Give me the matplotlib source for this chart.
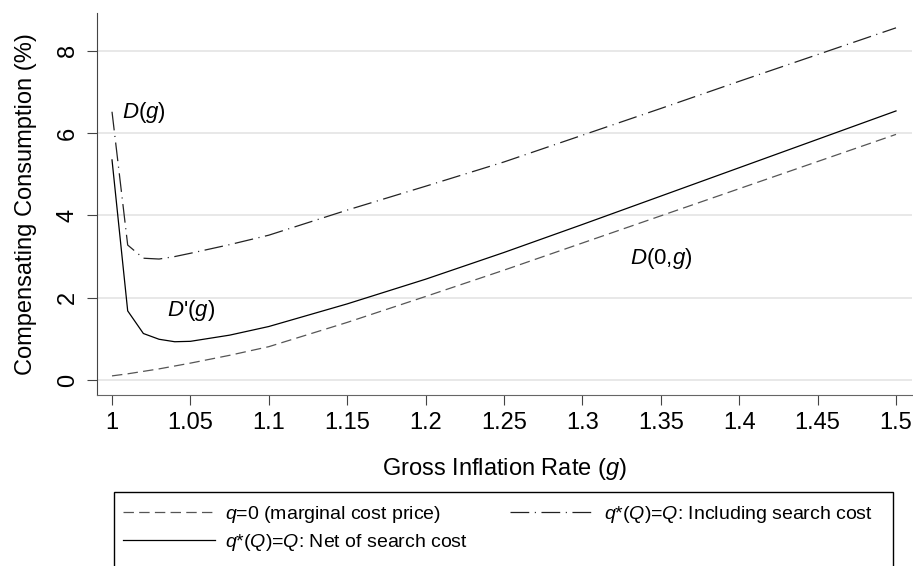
import matplotlib
matplotlib.use("Agg")
import matplotlib.pyplot as plt
from matplotlib.patches import Rectangle
from matplotlib.lines import Line2D

plt.rcParams['font.family'] = ['Liberation Sans', 'DejaVu Sans']
plt.rcParams['mathtext.fontset'] = 'custom'
plt.rcParams['mathtext.rm'] = 'Liberation Sans'
plt.rcParams['mathtext.it'] = 'Liberation Sans:italic'
plt.rcParams['lines.scale_dashes'] = False

# gross inflation rate (g)
g = [1.00, 1.01, 1.02, 1.03, 1.04, 1.05, 1.075, 1.10, 1.15,
     1.20, 1.25, 1.30, 1.35, 1.40, 1.45, 1.50]

# q=0 (marginal cost price)
d_zero = [0.10, 0.15, 0.21, 0.27, 0.34, 0.41, 0.60, 0.81, 1.40,
          2.03, 2.67, 3.33, 3.99, 4.65, 5.31, 5.97]
# q*(Q)=Q: net of search cost
d_net = [5.35, 1.68, 1.13, 0.99, 0.93, 0.94, 1.09, 1.30, 1.85,
         2.45, 3.10, 3.78, 4.47, 5.16, 5.85, 6.54]
# q*(Q)=Q: including search cost
d_incl = [6.52, 3.28, 2.96, 2.94, 3.00, 3.08, 3.29, 3.52, 4.13,
          4.71, 5.30, 5.95, 6.60, 7.26, 7.91, 8.56]

xticks = [1, 1.05, 1.1, 1.15, 1.2, 1.25, 1.3, 1.35, 1.4, 1.45, 1.5]
xticklabels = ['1', '1.05', '1.1', '1.15', '1.2', '1.25', '1.3', '1.35', '1.4', '1.45', '1.5']
yticks = [0, 2, 4, 6, 8]

labels = ['$q$=0 (marginal cost price)',
          '$q$*($Q$)=$Q$: Net of search cost',
          '$q$*($Q$)=$Q$: Including search cost']

dash_style = (0, (7.5, 3.8))
dashdot_style = (0, (13.5, 4.0, 0.8, 4.0))

fig = plt.figure(figsize=(9.13, 5.66), dpi=100)
ax = fig.add_axes([0.1062, 0.3021, 0.8927, 0.6749])

ax.plot(g, d_zero, color='#555555', lw=0.9, linestyle=dash_style)
ax.plot(g, d_net, color='black', lw=0.9)
ax.plot(g, d_incl, color='#222222', lw=0.9, linestyle=dashdot_style)

ax.set_xlim(0.9904, 1.5102)
ax.set_ylim(-0.365, 8.92)
ax.set_xticks(xticks)
ax.set_xticklabels(xticklabels)
ax.set_yticks(yticks)
ax.grid(axis='y', color='#e2e2e2', lw=1.1)
ax.set_axisbelow(True)

for side in ['top', 'right']:
    ax.spines[side].set_visible(False)
ax.spines['left'].set_color('#444444')
ax.spines['bottom'].set_color('#666666')

ax.tick_params(axis='both', direction='out', length=7, width=0.8,
               color='#444444', labelsize=17, pad=5)
ax.tick_params(axis='y', labelrotation=90, pad=6)
for lab in ax.get_yticklabels():
    lab.set_va('center')

ax.set_xlabel('Gross Inflation Rate ($g$)', fontsize=17, labelpad=16)
ax.set_ylabel('Compensating Consumption (%)', fontsize=17, labelpad=14)

# curve labels
ax.text(1.0064, 6.49, '$D$($g$)', fontsize=16, ha='left', va='center')
ax.text(1.035, 1.70, "$D$'($g$)", fontsize=16, ha='left', va='center')
ax.text(1.3304, 2.96, '$D$(0,$g$)', fontsize=16, ha='left', va='center')

# legend box
fig.patches.append(Rectangle((114 / 913, -0.05), 779 / 913, 0.05 + 1 - 492 / 566,
                             transform=fig.transFigure, fill=False,
                             edgecolor='black', lw=1.0, clip_on=False))

h_zero = Line2D([], [], color='#555555', lw=0.9, linestyle=dash_style)
h_net = Line2D([], [], color='black', lw=0.9)
h_incl = Line2D([], [], color='#222222', lw=0.9, linestyle=dashdot_style)

fig.legend([h_zero, h_net], labels[:2], loc='center left',
           bbox_to_anchor=(122.7 / 913, 1 - 528.5 / 566),
           frameon=False, borderpad=0, fontsize=14, handlelength=4.75,
           handletextpad=0.5, labelspacing=0.38, borderaxespad=0)
fig.legend([h_incl], labels[2:], loc='center left',
           bbox_to_anchor=(510 / 913, 1 - 514.5 / 566),
           frameon=False, borderpad=0, fontsize=14, handlelength=4.35,
           handletextpad=0.5, borderaxespad=0)

fig.savefig('out.png', dpi=100)
